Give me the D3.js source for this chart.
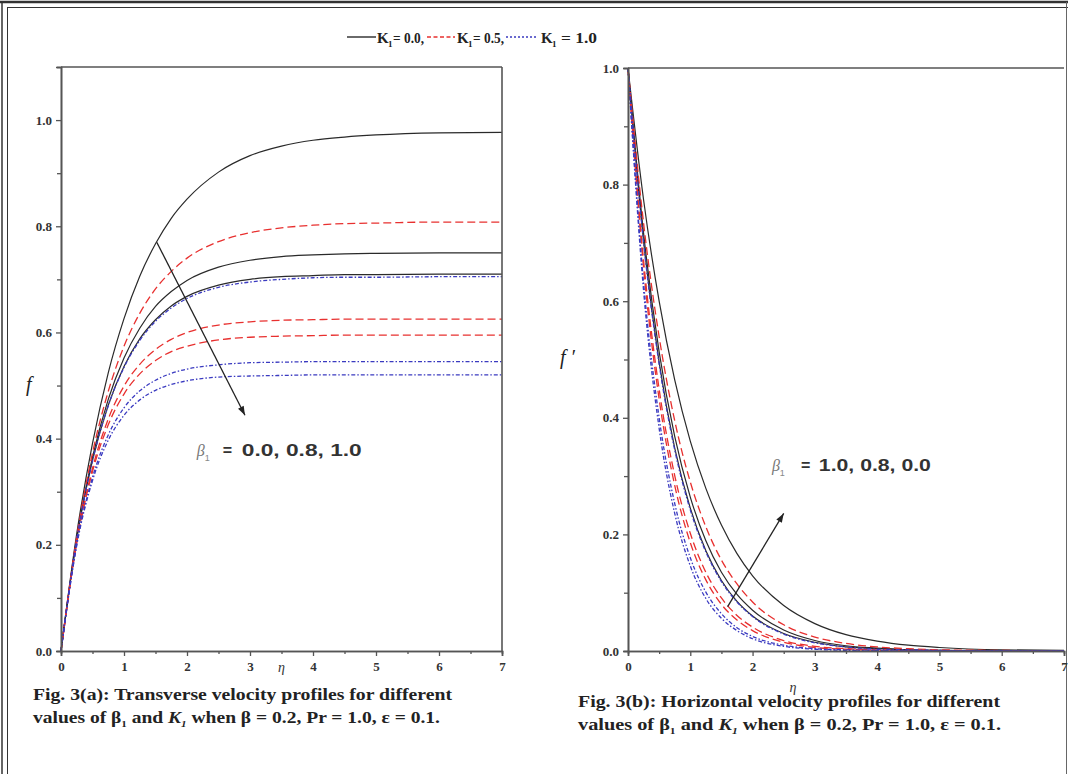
<!DOCTYPE html>
<html><head><meta charset="utf-8">
<script src="https://cdn.jsdelivr.net/npm/d3@7"></script>
<style>body{margin:0;background:#fff}svg{display:block}</style>
</head><body>
<svg id="c" width="1068" height="774"></svg>
<script>
const eta = [0,0.25,0.5,0.75,1,1.25,1.5,1.75,2,2.5,3,3.5,4,4.5,5,6,7];
// f (left panel)
const fK0b0   = [0,0.221,0.391,0.524,0.626,0.706,0.767,0.815,0.851,0.902,0.933,0.951,0.962,0.968,0.972,0.976,0.977];
const fK0b08  = [0,0.213,0.365,0.474,0.552,0.608,0.649,0.677,0.698,0.723,0.736,0.743,0.746,0.748,0.749,0.750,0.750];
const fK0b1   = [0,0.211,0.359,0.463,0.536,0.588,0.624,0.650,0.668,0.689,0.700,0.705,0.707,0.709,0.709,0.710,0.710];
const fK05b0  = [0,0.215,0.373,0.489,0.574,0.636,0.682,0.715,0.740,0.771,0.788,0.797,0.802,0.805,0.806,0.808,0.808];
const fK05b08 = [0,0.206,0.344,0.437,0.499,0.540,0.568,0.587,0.600,0.614,0.620,0.623,0.624,0.625,0.625,0.625,0.625];
const fK05b1  = [0,0.204,0.338,0.426,0.484,0.522,0.547,0.564,0.574,0.586,0.591,0.593,0.594,0.595,0.595,0.595,0.595];
const fK1b0   = [0,0.211,0.358,0.462,0.534,0.585,0.621,0.646,0.664,0.685,0.695,0.700,0.703,0.704,0.704,0.705,0.705];
const fK1b08  = [0,0.201,0.327,0.407,0.458,0.490,0.510,0.523,0.531,0.539,0.543,0.544,0.545,0.545,0.545,0.545,0.545];
const fK1b1   = [0,0.199,0.321,0.397,0.444,0.473,0.491,0.502,0.509,0.516,0.518,0.519,0.520,0.520,0.520,0.520,0.520];
// f' (right panel)
const gK0b0   = [1,0.774,0.600,0.465,0.360,0.279,0.216,0.167,0.129,0.078,0.047,0.028,0.017,0.010,0.006,0.002,0.001];
const gK0b08  = [1,0.717,0.513,0.368,0.264,0.189,0.135,0.097,0.070,0.036,0.018,0.009,0.005,0.002,0.001,0,0];
const gK0b1   = [1,0.703,0.495,0.348,0.245,0.172,0.121,0.085,0.060,0.030,0.015,0.007,0.004,0.002,0.001,0,0];
const gK05b0  = [1,0.734,0.539,0.395,0.290,0.213,0.156,0.115,0.084,0.045,0.024,0.013,0.007,0.004,0.002,0.001,0];
const gK05b08 = [1,0.670,0.449,0.301,0.202,0.135,0.091,0.061,0.041,0.018,0.008,0.004,0.002,0.001,0,0,0];
const gK05b1  = [1,0.657,0.432,0.284,0.186,0.122,0.080,0.053,0.035,0.015,0.006,0.003,0.001,0,0,0,0];
const gK1b0   = [1,0.701,0.492,0.345,0.242,0.170,0.119,0.084,0.059,0.029,0.014,0.007,0.003,0.002,0.001,0,0];
const gK1b08  = [1,0.632,0.400,0.253,0.160,0.101,0.064,0.040,0.025,0.010,0.004,0.002,0.001,0,0,0,0];
const gK1b1   = [1,0.618,0.382,0.236,0.146,0.090,0.056,0.035,0.021,0.008,0.003,0.001,0,0,0,0,0];

const kValues = ["0.0","0.5","1.0"];
const xTicks = [0,1,2,3,4,5,6,7];
const yTicks = [0,0.2,0.4,0.6,0.8,1.0];

const styles = [
  {stroke:"#2a2a2a", dash:null, w:1.2},
  {stroke:"#e8302f", dash:"8,4", w:1.3},
  {stroke:"#3a3ac0", dash:"4,2,1.5,2", w:1.3}
];

const svg = d3.select("#c");
const serif = "Liberation Serif, Times New Roman, serif";
const sans = "Liberation Sans, Arial, sans-serif";

// outer frame
svg.append("line").attr("x1",0).attr("x2",1068).attr("y1",2).attr("y2",2).attr("stroke","#333").attr("stroke-width",2.5);
svg.append("line").attr("x1",7).attr("x2",1068).attr("y1",7.5).attr("y2",7.5).attr("stroke","#333").attr("stroke-width",1);
svg.append("line").attr("x1",2).attr("x2",2).attr("y1",2).attr("y2",774).attr("stroke","#333").attr("stroke-width",1.5);
svg.append("line").attr("x1",7.5).attr("x2",7.5).attr("y1",7).attr("y2",774).attr("stroke","#333").attr("stroke-width",1);
svg.append("line").attr("x1",1066.5).attr("x2",1066.5).attr("y1",2).attr("y2",774).attr("stroke","#666").attr("stroke-width",1);

function panel(opt){
  const x = d3.scaleLinear().domain([0,7]).range(opt.xr);
  const y = d3.scaleLinear().domain(opt.yd).range(opt.yr);
  const g = svg.append("g");
  const line = d3.line().x((d,i)=>x(eta[i])).y(d=>y(d)).curve(d3.curveMonotoneX);
  opt.series.forEach(s=>{
    const st = styles[s.k];
    g.append("path").datum(s.v).attr("d",line).attr("fill","none")
      .attr("stroke",st.stroke).attr("stroke-width",st.w)
      .attr("stroke-dasharray",st.dash);
  });
  const axisCol = "#555";
  g.append("g").attr("transform",`translate(0,${opt.yr[0]})`)
    .call(d3.axisBottom(x).tickValues(xTicks).tickFormat(d3.format("d")).tickSize(5).tickPadding(6));
  g.append("g").attr("transform",`translate(0,${opt.yr[0]})`)
    .call(d3.axisBottom(x).tickValues(d3.range(0.5,7,1)).tickFormat("").tickSize(3));
  g.append("g").attr("transform",`translate(${opt.xr[0]},0)`)
    .call(d3.axisLeft(y).tickValues(yTicks).tickFormat(d3.format(".1f")).tickSize(5).tickPadding(4));
  g.append("g").attr("transform",`translate(${opt.xr[0]},0)`)
    .call(d3.axisLeft(y).tickValues(opt.minorY).tickFormat("").tickSize(4));
  g.selectAll(".domain").attr("stroke",axisCol).attr("stroke-width",1.6);
  g.selectAll(".tick line").attr("stroke",axisCol).attr("stroke-width",1.3);
  g.selectAll(".tick text").attr("font-family",serif).attr("font-weight","bold").attr("font-size",13).attr("fill","#333");
  g.append("line").attr("x1",opt.xr[0]).attr("x2",opt.xr[1]).attr("y1",opt.yr[1]).attr("y2",opt.yr[1]).attr("stroke",axisCol).attr("stroke-width",1.6);
  if(opt.rightBorder) g.append("line").attr("x1",opt.xr[1]).attr("x2",opt.xr[1]).attr("y1",opt.yr[1]).attr("y2",opt.yr[0]).attr("stroke",axisCol).attr("stroke-width",1.6);
  g.append("text").attr("x",opt.ylab[0]).attr("y",opt.ylab[1]).attr("font-family",serif).attr("font-style","italic").attr("font-size",20).attr("fill","#222").text(opt.ylabText);
  g.append("text").attr("x",x(opt.xlab[0])).attr("y",opt.xlab[1]).attr("font-family",serif).attr("font-style","italic").attr("font-size",14).attr("fill","#333").attr("text-anchor","middle").text("η");
  // arrow
  const a = opt.arrow;
  const x1=x(a[0]),y1=y(a[1]),x2=x(a[2]),y2=y(a[3]);
  g.append("line").attr("x1",x1).attr("y1",y1).attr("x2",x2).attr("y2",y2).attr("stroke","#222").attr("stroke-width",1.3);
  const ang = Math.atan2(y2-y1,x2-x1);
  const L=9,W=3.2;
  const p = [[x2,y2],[x2-L*Math.cos(ang)+W*Math.sin(ang), y2-L*Math.sin(ang)-W*Math.cos(ang)],[x2-L*Math.cos(ang)-W*Math.sin(ang), y2-L*Math.sin(ang)+W*Math.cos(ang)]];
  g.append("path").attr("d","M"+p.join("L")+"Z").attr("fill","#222");
  // beta label
  const bx = x(opt.beta[0]), by = y(opt.beta[1]);
  const t = g.append("text").attr("x",bx).attr("y",by);
  t.append("tspan").attr("font-family",serif).attr("font-style","italic").attr("fill","#777").attr("font-size",16).text("β");
  t.append("tspan").attr("font-family",sans).attr("fill","#888").attr("font-size",9).attr("dy",5).text("1");
  g.append("text").attr("x",bx+opt.eqDx).attr("y",by).attr("font-family",sans).attr("font-weight","bold").attr("font-size",16).attr("fill","#333").text("=");
  g.append("text").attr("x",bx+opt.numDx).attr("y",by).attr("font-family",sans).attr("font-weight","bold").attr("font-size",16).attr("fill","#333")
    .attr("textLength",opt.numW).attr("lengthAdjust","spacingAndGlyphs").text(opt.betaText);
  // caption
  svg.append("text").attr("x",opt.capX).attr("y",opt.capY).attr("font-family",serif).attr("font-weight","bold").attr("font-size",16).attr("fill","#222")
    .attr("textLength",opt.capW1).attr("lengthAdjust","spacingAndGlyphs").text(opt.cap1);
  const c2 = svg.append("text").attr("x",opt.capX).attr("y",opt.capY+23).attr("font-family",serif).attr("font-weight","bold").attr("font-size",16).attr("fill","#222")
    .attr("textLength",opt.capW2).attr("lengthAdjust","spacingAndGlyphs");
  c2.append("tspan").text("values of β");
  c2.append("tspan").attr("font-size",9).attr("dy",4).text("1");
  c2.append("tspan").attr("dy",-4).text(" and ");
  c2.append("tspan").attr("font-style","italic").text("K");
  c2.append("tspan").attr("font-size",9).attr("font-style","italic").attr("dy",4).text("1");
  c2.append("tspan").attr("dy",-4).text(" when β = 0.2, Pr = 1.0, ε = 0.1.");
}

const leftSeries = [
  {k:0,v:fK0b0},{k:0,v:fK0b08},{k:0,v:fK0b1},
  {k:1,v:fK05b0},{k:1,v:fK05b08},{k:1,v:fK05b1},
  {k:2,v:fK1b0},{k:2,v:fK1b08},{k:2,v:fK1b1}
];
const rightSeries = [
  {k:0,v:gK0b0},{k:0,v:gK0b08},{k:0,v:gK0b1},
  {k:1,v:gK05b0},{k:1,v:gK05b08},{k:1,v:gK05b1},
  {k:2,v:gK1b0},{k:2,v:gK1b08},{k:2,v:gK1b1}
];

panel({xr:[61,502], yr:[651,67], yd:[0,1.1], minorY:[0.1,0.3,0.5,0.7,0.9,1.1], series:leftSeries, rightBorder:true,
  ylab:[26,391], ylabText:"f", xlab:[3.5,672],
  arrow:[1.52,0.770,2.92,0.444], beta:[2.155,0.367], eqDx:26, numDx:45, numW:120, betaText:"0.0, 0.8, 1.0",
  capX:33, capY:700, capW1:419, capW2:407, cap1:"Fig. 3(a): Transverse velocity profiles for different"});
panel({xr:[628,1064], yr:[651,68], yd:[0,1.0], minorY:[0.1,0.3,0.5,0.7,0.9], series:rightSeries, rightBorder:false,
  ylab:[560,364], ylabText:"f ′", xlab:[2.65,692],
  arrow:[1.6,0.076,2.5,0.236], beta:[2.31,0.309], eqDx:29, numDx:47, numW:112, betaText:"1.0, 0.8, 0.0",
  capX:578, capY:707, capW1:422, capW2:423, cap1:"Fig. 3(b): Horizontal velocity profiles for different"});

// legend: line sample, "K", subscript "1", then "= value"
const lg = svg.append("g");
const items = [
  {x1:347,x2:376,kx:377,eqx:393,eqw:31,txt:"= "+kValues[0]+","},
  {x1:427,x2:455,kx:457,eqx:473,eqw:31,txt:"= "+kValues[1]+","},
  {x1:506,x2:538,kx:541,eqx:561,eqw:36,txt:"= "+kValues[2]}
];
items.forEach((it,i)=>{
  const st = styles[i];
  lg.append("line").attr("x1",it.x1).attr("x2",it.x2).attr("y1",37).attr("y2",37)
    .attr("stroke",st.stroke).attr("stroke-width",1.4).attr("stroke-dasharray",i===2?"2,2":(i===1?"4,2.5":null));
  lg.append("text").attr("x",it.kx).attr("y",43).attr("font-family",serif).attr("font-weight","bold").attr("font-size",15).attr("fill","#222").text("K");
  lg.append("text").attr("x",it.kx+11).attr("y",47).attr("font-family",serif).attr("font-weight","bold").attr("font-size",9).attr("fill","#222").text("1");
  lg.append("text").attr("x",it.eqx).attr("y",43).attr("font-family",serif).attr("font-weight","bold").attr("font-size",15).attr("fill","#222")
    .attr("textLength",it.eqw).attr("lengthAdjust","spacingAndGlyphs").text(it.txt);
});
</script>
</body></html>
